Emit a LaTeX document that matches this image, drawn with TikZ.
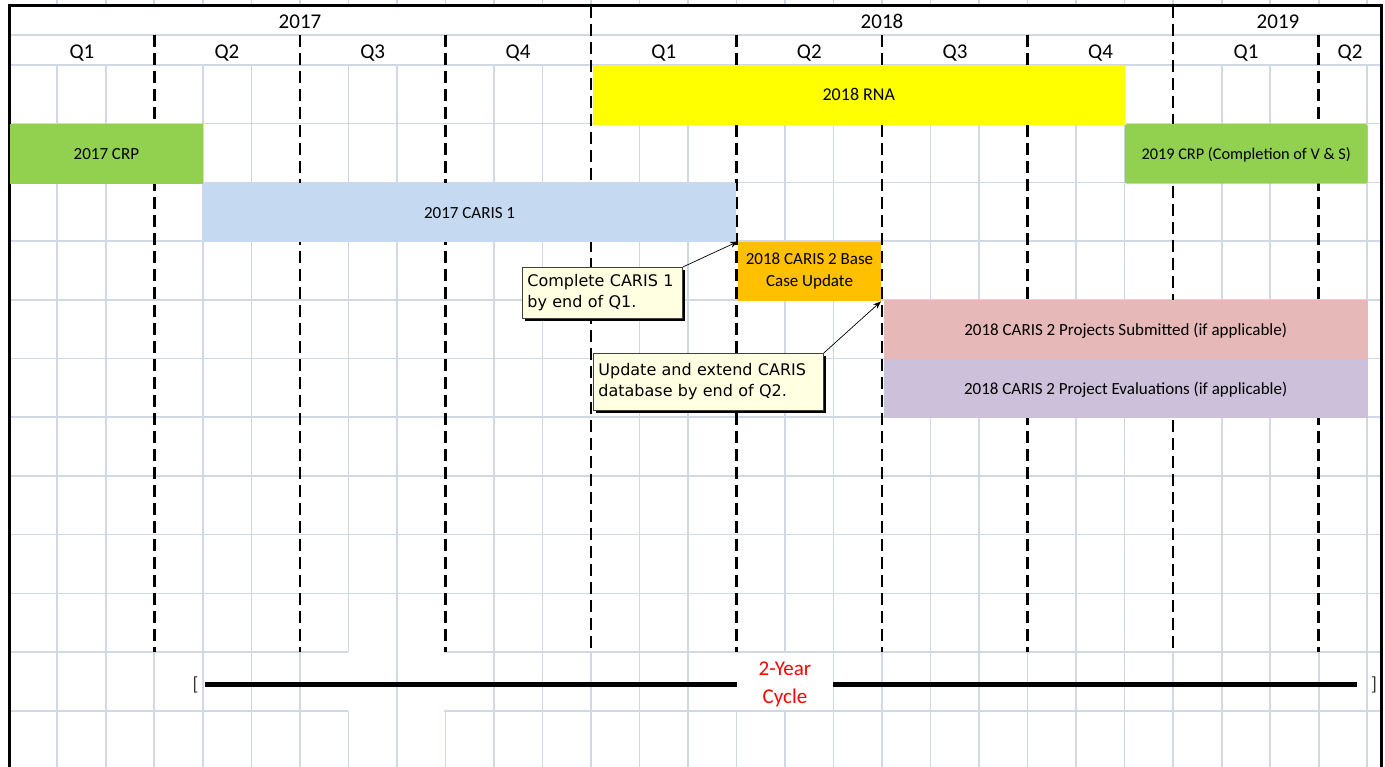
\documentclass[tikz,border=0pt]{standalone}
\usepackage{fontspec}
\setmainfont{Carlito}
\newfontfamily\callfont{DejaVu Sans}
\usetikzlibrary{shadows,arrows.meta}
\definecolor{gridc}{RGB}{208,215,229}
\definecolor{rnay}{RGB}{255,255,0}
\definecolor{crpg}{RGB}{146,208,80}
\definecolor{carisb}{RGB}{197,217,241}
\definecolor{baseo}{RGB}{255,192,0}
\definecolor{subp}{RGB}{230,184,183}
\definecolor{evall}{RGB}{204,192,218}
\definecolor{tipc}{RGB}{255,255,225}
\begin{document}
\begin{tikzpicture}[x=1pt,y=-1pt,
  gridline/.style={gridc, line width=1.6pt},
  qline/.style={black, line width=2.6pt, dash pattern=on 12pt off 6pt},
  border/.style={black, line width=3pt},
  barbox/.style={draw=none, inner sep=0pt, anchor=north west, align=center, font=\fontsize{17}{22}\selectfont},
  oneline/.style={text height=11pt, text depth=0pt},
  hdr/.style={font=\fontsize{21}{24}\selectfont, inner sep=0pt, anchor=base},
  callout/.style={draw=black!75, line width=0.8pt, fill=tipc, anchor=north west, inner xsep=5pt, inner ysep=0pt, align=left, font=\callfont\fontsize{16}{21}\selectfont, drop shadow={shadow xshift=3pt, shadow yshift=-3pt, fill=black, opacity=1}},
  pointer/.style={-{Stealth[length=8pt,width=6pt]}, line width=0.7pt},
  cycletxt/.style={text=red, align=center, font=\fontsize{21}{28}\selectfont, inner sep=0pt, minimum width=96pt},
  brk/.style={text=black!80, font=\fontsize{19}{22}\selectfont, inner sep=0pt},
  cycleline/.style={black, line width=5pt}
]
\useasboundingbox (0,0) rectangle (1385,767);
\fill[white] (0,0) rectangle (1385,767);

% ---- grid ----
\foreach \i in {1,...,28} \draw[gridline] ({8.7+48.52*\i},0) -- ({8.7+48.52*\i},5);
\foreach \i in {1,2,4,5,8,10,11,13,14,17,19,20,22,23,25,26,28}
  \draw[gridline] ({8.7+48.52*\i},65) -- ({8.7+48.52*\i},767);
\foreach \i in {7,16}{
  \draw[gridline] ({8.7+48.52*\i},65) -- ({8.7+48.52*\i},652);
  \draw[gridline] ({8.7+48.52*\i},710.7) -- ({8.7+48.52*\i},767);
}
\foreach \i in {3,6,12,18,21,24,27}
  \draw[gridline] ({8.7+48.52*\i},652) -- ({8.7+48.52*\i},767);
\foreach \i in {9,15}
  \draw[gridline] ({8.7+48.52*\i},710.7) -- ({8.7+48.52*\i},767);
\draw[gridline] (10,35) -- (1381,35);
\draw[gridline] (10,65) -- (1381,65);
\foreach \k in {1,...,9} \draw[gridline] (10,{65+58.7*\k}) -- (1381,{65+58.7*\k});
\foreach \k in {10,11}{
  \draw[gridline] (10,{65+58.7*\k}) -- (348.3,{65+58.7*\k});
  \draw[gridline] (444.4,{65+58.7*\k}) -- (1381,{65+58.7*\k});
}

% ---- quarter / year dividers ----
\foreach \i in {3,6,9,15,18,21,27}
  \draw[qline] ({8.7+48.52*\i},35) -- ({8.7+48.52*\i},652);
\foreach \i in {12,24}
  \draw[qline] ({8.7+48.52*\i},6) -- ({8.7+48.52*\i},652);

% ---- borders ----
\draw[border] (9.5,6) -- (1381.5,6);
\draw[border] (9.5,4.5) -- (9.5,767);
\draw[border] (1381.5,4.5) -- (1381.5,767);

% ---- header ----
\node[hdr] (y2017) at (300,29) {2017};
\node[hdr] (y2018) at (882,29) {2018};
\node[hdr] (y2019) at (1278,29) {2019};
\node[hdr] (qa) at (82,59) {Q1};
\node[hdr] (qb) at (227,59) {Q2};
\node[hdr] (qc) at (372.7,59) {Q3};
\node[hdr] (qd) at (518,59) {Q4};
\node[hdr] (qe) at (663.8,59) {Q1};
\node[hdr] (qf) at (809.3,59) {Q2};
\node[hdr] (qg) at (955,59) {Q3};
\node[hdr] (qh) at (1100.5,59) {Q4};
\node[hdr] (qi) at (1246,59) {Q1};
\node[hdr] (qj) at (1350,59) {Q2};

% ---- bars ----
\node[barbox, oneline, fill=rnay, minimum width=532.2pt, minimum height=59.5pt, font=\fontsize{18}{22}\selectfont] (rna) at (592.5,65) {2018 RNA};
\node[barbox, oneline, fill=crpg, minimum width=193.3pt, minimum height=59.5pt] (crp17) at (9.5,124) {2017 CRP};
\node[barbox, oneline, fill=crpg, rounded corners=2pt, minimum width=242.6pt, minimum height=59.5pt, font=\fontsize{16.3}{22}\selectfont] (crp19) at (1124.7,124) {2019 CRP (Completion of V \& S)};
\node[barbox, oneline, fill=carisb, minimum width=533.2pt, minimum height=59pt] (caris1) at (202.8,183) {2017 CARIS 1};
\node[barbox, fill=baseo, minimum width=142.6pt, minimum height=59.5pt] (base) at (738,241.5) {2018 CARIS 2 Base\\Case Update};
\node[barbox, oneline, fill=subp, minimum width=483.7pt, minimum height=58.7pt] (subm) at (883.6,300) {2018 CARIS 2 Projects Submitted (if applicable)};
\node[barbox, oneline, fill=evall, minimum width=483.7pt, minimum height=59.5pt] (evals) at (883.6,358.7) {2018 CARIS 2 Project Evaluations (if applicable)};

% ---- callouts ----
\node[callout, text width=150pt, minimum height=51pt] (c1) at (522,267) {Complete CARIS 1\\by end of Q1.};
\node[callout, text width=220pt, minimum height=57pt] (c2) at (593,353) {Update and extend CARIS\\database by end of Q2.};
\draw[pointer] (c1.north east) -- (base.north west);
\draw[pointer] (c2.north east) -- (base.south east);

% ---- 2-year cycle ----
\node[cycletxt] (cycle) at (785,684) {2-Year\\Cycle};
\node[brk] (lb) at (195.5,685) {[};
\node[brk] (rb) at (1374,685) {]};
\draw[cycleline, shorten <=6pt] (lb.east |- cycle.west) -- (cycle.west);
\draw[cycleline, shorten >=14pt] (cycle.east) -- (rb.west |- cycle.east);
\end{tikzpicture}
\end{document}
